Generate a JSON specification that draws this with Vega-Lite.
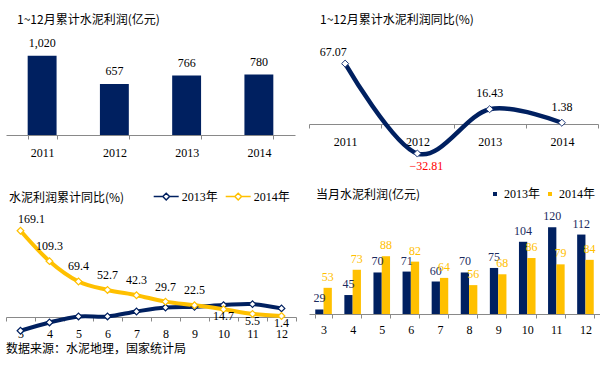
{
  "$schema": "https://vega.github.io/schema/vega-lite/v6.json",
  "padding": {"left": 5, "top": 14, "right": 0, "bottom": 0},
  "background": "white",
  "bounds": "flush",
  "align": "each",
  "columns": 2,
  "spacing": {"row": 24, "column": 13},
  "title": {"text": "数据来源：水泥地理，国家统计局", "orient": "bottom", "anchor": "start", "frame": "group", "offset": 4},
  "config": {
    "view": {"stroke": null},
    "axis": {"domainColor": "#898989", "tickColor": "#898989", "tickSize": 4, "labelFont": "Liberation Serif", "labelFontSize": 12, "labelColor": "#000", "title": null, "grid": false},
    "title": {"font": "Noto Sans CJK SC", "fontSize": 12, "fontWeight": "normal", "color": "#000", "anchor": "start", "frame": "group"},
    "text": {"font": "Liberation Serif", "fontSize": 12},
    "legend": {"labelFont": "Liberation Serif, Noto Sans CJK SC", "labelFontSize": 12, "labelColor": "#000", "padding": 0}
  },
  "resolve": {"scale": {"stroke": "independent", "fill": "independent", "color": "independent"}, "legend": {"stroke": "independent", "fill": "independent", "color": "independent"}},
  "datasets": {
    "annual": [
      {"year": "2011", "profit": 1020, "yoy": 67.07},
      {"year": "2012", "profit": 657, "yoy": -32.81},
      {"year": "2013", "profit": 766, "yoy": 16.43},
      {"year": "2014", "profit": 780, "yoy": 1.38}
    ],
    "cum": [
      {"month": 3, "year": "2013年", "v": -27.5},
      {"month": 4, "year": "2013年", "v": -11.2},
      {"month": 5, "year": "2013年", "v": 0.6},
      {"month": 6, "year": "2013年", "v": 0.6},
      {"month": 7, "year": "2013年", "v": 10.4},
      {"month": 8, "year": "2013年", "v": 18.2},
      {"month": 9, "year": "2013年", "v": 19.6},
      {"month": 10, "year": "2013年", "v": 22.9},
      {"month": 11, "year": "2013年", "v": 24.9},
      {"month": 12, "year": "2013年", "v": 16.4},
      {"month": 3, "year": "2014年", "v": 169.1},
      {"month": 4, "year": "2014年", "v": 109.3},
      {"month": 5, "year": "2014年", "v": 69.4},
      {"month": 6, "year": "2014年", "v": 52.7},
      {"month": 7, "year": "2014年", "v": 42.3},
      {"month": 8, "year": "2014年", "v": 29.7},
      {"month": 9, "year": "2014年", "v": 22.5},
      {"month": 10, "year": "2014年", "v": 14.7},
      {"month": 11, "year": "2014年", "v": 5.5},
      {"month": 12, "year": "2014年", "v": 1.4}
    ],
    "monthly": [
      {"month": 3, "year": "2013年", "v": 29},
      {"month": 4, "year": "2013年", "v": 45},
      {"month": 5, "year": "2013年", "v": 70},
      {"month": 6, "year": "2013年", "v": 71},
      {"month": 7, "year": "2013年", "v": 60},
      {"month": 8, "year": "2013年", "v": 70},
      {"month": 9, "year": "2013年", "v": 75},
      {"month": 10, "year": "2013年", "v": 104},
      {"month": 11, "year": "2013年", "v": 120},
      {"month": 12, "year": "2013年", "v": 112},
      {"month": 3, "year": "2014年", "v": 53},
      {"month": 4, "year": "2014年", "v": 73},
      {"month": 5, "year": "2014年", "v": 88},
      {"month": 6, "year": "2014年", "v": 82},
      {"month": 7, "year": "2014年", "v": 64},
      {"month": 8, "year": "2014年", "v": 56},
      {"month": 9, "year": "2014年", "v": 68},
      {"month": 10, "year": "2014年", "v": 86},
      {"month": 11, "year": "2014年", "v": 79},
      {"month": 12, "year": "2014年", "v": 84}
    ]
  },
  "concat": [
    {
      "width": 289,
      "height": 101,
      "title": {"text": "1~12月累计水泥利润(亿元)", "dx": 11, "offset": 7},
      "data": {"name": "annual"},
      "encoding": {
        "x": {"field": "year", "type": "ordinal", "scale": {"type": "band", "paddingInner": 0.6, "paddingOuter": 0.3}, "axis": {"labelAngle": 0, "tickBand": "extent", "labelPadding": 8}},
        "y": {"field": "profit", "type": "quantitative", "scale": {"domain": [0, 1300], "nice": false}, "axis": null}
      },
      "layer": [
        {"mark": {"type": "bar", "color": "#002060"}},
        {"mark": {"type": "text", "baseline": "middle", "dy": -12.5, "color": "#000"}, "encoding": {"text": {"field": "profit", "type": "quantitative", "format": ","}}}
      ]
    },
    {
      "width": 289,
      "height": 126,
      "title": {"text": "1~12月累计水泥利润同比(%)", "dx": 11, "offset": 7},
      "data": {"name": "annual"},
      "encoding": {
        "x": {"field": "year", "type": "ordinal", "bandPosition": 0.5, "scale": {"type": "band", "paddingInner": 0, "paddingOuter": 0}, "axis": {"labelAngle": 0, "tickBand": "extent", "labelPadding": 8, "offset": -36}},
        "y": {"field": "yoy", "type": "quantitative", "scale": {"domain": [-40, 100], "nice": false, "zero": false}, "axis": null}
      },
      "layer": [
        {"mark": {"type": "line", "interpolate": "cardinal", "color": "#002060", "strokeWidth": 4.5}},
        {"mark": {"type": "point", "shape": "diamond", "filled": true, "fill": "white", "stroke": "#1F3A7A", "strokeWidth": 1, "size": 50, "opacity": 1}},
        {"transform": [{"filter": "datum.yoy >= 0 && datum.year != '2011'"}], "mark": {"type": "text", "baseline": "middle", "dy": -16, "color": "#000"}, "encoding": {"text": {"field": "yoy", "type": "quantitative", "format": ".2f"}}},
        {"transform": [{"filter": "datum.year == '2011'"}], "mark": {"type": "text", "baseline": "middle", "dy": -12, "dx": -12, "color": "#000"}, "encoding": {"text": {"field": "yoy", "type": "quantitative", "format": ".2f"}}},
        {"transform": [{"filter": "datum.yoy < 0"}], "mark": {"type": "text", "baseline": "middle", "dy": 12, "dx": 9, "color": "#FF0000"}, "encoding": {"text": {"field": "yoy", "type": "quantitative", "format": ".2f"}}}
      ]
    },
    {
      "width": 290,
      "height": 148,
      "title": {"text": "水泥利润累计同比(%)", "dx": 3, "offset": -22},
      "data": {"name": "cum"},
      "encoding": {
        "x": {"field": "month", "type": "ordinal", "bandPosition": 0.5, "scale": {"type": "band", "paddingInner": 0, "paddingOuter": 0}, "axis": {"labelAngle": 0, "tickBand": "extent", "labelPadding": 7.5, "offset": -15}},
        "y": {"field": "v", "type": "quantitative", "scale": {"domain": [-30, 261], "nice": false, "zero": false}, "axis": null}
      },
      "layer": [
        {
          "mark": {"type": "line", "interpolate": "cardinal", "strokeWidth": 4},
          "encoding": {"stroke": {"field": "year", "type": "nominal", "scale": {"domain": ["2013年", "2014年"], "range": ["#002060", "#FFC000"]},
            "legend": {"orient": "none", "legendX": 146.7, "legendY": -1, "direction": "horizontal", "title": null, "symbolType": "M-1,0L-0.27,0M0.27,0L1,0M-0.27,0L0,-0.27L0.27,0L0,0.27Z", "symbolSize": 625, "symbolStrokeWidth": 1.5, "symbolFillColor": "white", "labelOffset": 2, "columnPadding": 4, "encode": {"symbols": {"update": {"fill": {"value": "white"}}}}}}}
        },
        {
          "mark": {"type": "point", "shape": "diamond", "filled": true, "fill": "white", "size": 45, "strokeWidth": 1.2, "opacity": 1},
          "encoding": {"stroke": {"field": "year", "type": "nominal", "scale": {"domain": ["2013年", "2014年"], "range": ["#002060", "#FFC000"]}}}
        },
        {"transform": [{"filter": "datum.year == '2014年' && datum.month == 3"}], "mark": {"type": "text", "baseline": "middle", "dy": -12, "dx": 11, "color": "#000"}, "encoding": {"text": {"field": "v", "type": "quantitative", "format": ".1f"}}},
        {"transform": [{"filter": "datum.year == '2014年' && datum.month >= 4 && datum.month <= 9"}], "mark": {"type": "text", "baseline": "middle", "dy": -15, "color": "#000"}, "encoding": {"text": {"field": "v", "type": "quantitative", "format": ".1f"}}},
        {"transform": [{"filter": "datum.year == '2014年' && datum.month >= 10"}], "mark": {"type": "text", "baseline": "middle", "dy": 7, "color": "#000"}, "encoding": {"text": {"field": "v", "type": "quantitative", "format": ".1f"}}}
      ]
    },
    {
      "width": 291,
      "height": 130,
      "title": {"text": "当月水泥利润(亿元)", "dx": 7, "offset": -17.5},
      "data": {"name": "monthly"},
      "encoding": {
        "x": {"field": "month", "type": "ordinal", "scale": {"type": "band", "paddingInner": 0.43, "paddingOuter": 0.215}, "axis": {"labelAngle": 0, "tickBand": "extent", "labelPadding": 6}},
        "xOffset": {"field": "year", "type": "nominal", "sort": ["2013年", "2014年"]},
        "y": {"field": "v", "type": "quantitative", "scale": {"domain": [24, 168], "nice": false, "zero": false, "clamp": true}, "axis": null}
      },
      "layer": [
        {
          "mark": {"type": "bar"},
          "encoding": {
            "fill": {"field": "year", "type": "nominal", "scale": {"domain": ["2013年", "2014年"], "range": ["#002060", "#FFC000"]},
              "legend": {"orient": "none", "legendX": 180, "legendY": 4, "direction": "horizontal", "title": null, "symbolType": "square", "symbolSize": 16, "symbolStrokeWidth": 0, "labelOffset": 3, "columnPadding": 3}}
          }
        },
        {
          "mark": {"type": "text", "baseline": "middle", "dy": -11},
          "encoding": {
            "text": {"field": "v", "type": "quantitative"},
            "color": {"condition": {"test": "datum.year == '2013年'", "value": "#1a2a5e"}, "value": "#FFC000"}
          }
        }
      ]
    }
  ]
}
